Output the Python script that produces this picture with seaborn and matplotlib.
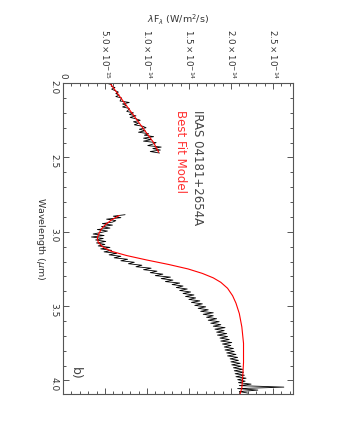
import seaborn as sns
import matplotlib.pyplot as plt
import pandas as pd
import numpy as np
from matplotlib.ticker import MultipleLocator, FixedLocator

# observed spectrum, flux in units of 1e-15 W/m^2/s
k_wave = [2.00, 2.01, 2.02, 2.03, 2.04, 2.05, 2.06, 2.07, 2.08, 2.09,
          2.10, 2.11, 2.12, 2.13, 2.14, 2.15, 2.16, 2.17, 2.18, 2.19,
          2.20, 2.21, 2.22, 2.23, 2.24, 2.25, 2.26, 2.27, 2.28, 2.29,
          2.30, 2.31, 2.32, 2.33, 2.34, 2.35, 2.36, 2.37, 2.38, 2.39,
          2.40, 2.41, 2.42, 2.43, 2.44, 2.45, 2.46, 2.47]
k_flux = [5.2, 5.8, 5.75, 6.2, 5.8, 6.2, 6.6, 6.3, 6.7, 6.3,
          7.0, 6.9, 6.8, 7.9, 7.1, 7.6, 7.1, 7.9, 7.8, 7.6,
          8.4, 7.9, 8.7, 8.0, 8.7, 9.2, 8.4, 9.0, 8.5, 9.5,
          9.9, 9.1, 9.8, 9.0, 10.2, 9.7, 10.8, 9.6, 10.5, 9.6,
          11.1, 10.7, 10.1, 11.7, 10.7, 11.6, 10.4, 11.5]

l_wave = [2.885, 2.895, 2.905, 2.915, 2.925, 2.935, 2.945, 2.955, 2.965, 2.975,
          2.985, 2.995, 3.005, 3.015, 3.025, 3.035, 3.045, 3.055, 3.065, 3.075,
          3.085, 3.095, 3.105, 3.115, 3.125, 3.135, 3.145, 3.155, 3.165, 3.175,
          3.185, 3.195, 3.205, 3.215, 3.225, 3.235, 3.245, 3.255, 3.265, 3.275,
          3.285, 3.295, 3.305, 3.315, 3.325, 3.335, 3.345, 3.355, 3.365, 3.375,
          3.385, 3.395, 3.405, 3.415, 3.425, 3.435, 3.445, 3.455, 3.465, 3.475,
          3.485, 3.495, 3.505, 3.515, 3.525, 3.535, 3.545, 3.555, 3.565, 3.575,
          3.585, 3.595, 3.605, 3.615, 3.625, 3.635, 3.645, 3.655, 3.665, 3.675,
          3.685, 3.695, 3.705, 3.715, 3.725, 3.735, 3.745, 3.755, 3.765, 3.775,
          3.785, 3.795, 3.805, 3.815, 3.825, 3.835, 3.845, 3.855, 3.865, 3.875,
          3.885, 3.895, 3.905, 3.915, 3.925, 3.935, 3.945, 3.955, 3.965, 3.975,
          3.985, 3.995, 4.005, 4.015, 4.025, 4.035, 4.045, 4.055, 4.065, 4.075,
          4.085]
l_flux = [7.4, 6.0, 6.9, 5.2, 6.3, 5.9, 4.7, 5.9, 4.6, 5.6,
          4.1, 5.3, 4.5, 3.6, 4.9, 3.4, 4.8, 3.9, 5.1, 4.0,
          5.0, 4.2, 5.6, 4.5, 5.8, 4.9, 6.4, 5.5, 6.9, 6.1,
          7.7, 6.9, 8.5, 7.8, 9.4, 8.7, 10.5, 9.6, 11.2, 10.4,
          11.9, 11.0, 12.8, 11.7, 13.1, 12.2, 13.9, 13.0, 14.3, 13.5,
          14.8, 13.9, 15.2, 14.3, 15.6, 14.6, 15.8, 15.0, 16.3, 15.3,
          16.6, 15.7, 17.0, 16.1, 17.3, 16.4, 17.9, 16.7, 17.9, 17.1,
          18.3, 17.3, 18.6, 17.6, 18.8, 17.9, 19.3, 18.1, 19.2, 18.3,
          19.5, 18.4, 19.6, 18.7, 19.8, 18.8, 20.1, 19.0, 20.0, 19.2,
          20.3, 19.3, 20.4, 19.5, 20.6, 19.6, 20.8, 19.9, 20.9, 20.0,
          21.1, 20.1, 21.2, 20.3, 21.4, 20.4, 21.5, 20.5, 21.6, 20.6,
          21.8, 20.8, 21.7, 20.9, 22.4, 21.0, 26.3, 20.8, 23.2, 21.0,
          22.0]

# best fit model
mk_wave = [2.000, 2.100, 2.200, 2.300, 2.400, 2.465]
mk_flux = [5.6, 6.9, 8.2, 9.5, 10.8, 11.4]
ml_wave = [2.89, 2.92, 2.95, 2.98, 3.01, 3.04, 3.07, 3.10, 3.13, 3.16,
           3.19, 3.22, 3.25, 3.28, 3.31, 3.34, 3.38, 3.43, 3.48, 3.55,
           3.64, 3.75, 3.88, 3.98, 4.05, 4.09]
ml_flux = [6.7, 5.8, 5.1, 4.6, 4.3, 4.1, 4.2, 4.7, 5.7, 7.6,
           10.0, 12.6, 14.9, 16.6, 17.9, 18.8, 19.6, 20.2, 20.6, 21.0,
           21.3, 21.5, 21.5, 21.4, 21.3, 21.1]

flux_ticks = [0, 5e-15, 1e-14, 1.5e-14, 2e-14, 2.5e-14]
flux_labels = ['0', r'$5.0\times10^{-15}$', r'$1.0\times10^{-14}$',
               r'$1.5\times10^{-14}$', r'$2.0\times10^{-14}$', r'$2.5\times10^{-14}$']
wave_ticks = [2.0, 2.5, 3.0, 3.5, 4.0]
wave_labels = ['2.0', '2.5', '3.0', '3.5', '4.0']

sns.set_style("ticks")
plt.rcParams['font.family'] = ['DejaVu Sans']
plt.rcParams['mathtext.fontset'] = 'dejavusans'

fig = plt.figure(figsize=(3.4, 4.4), dpi=100)
ax = fig.add_axes([0.185, 0.105, 0.677, 0.706])

segs = [(k_wave, k_flux, 'black', 0.6), (l_wave, l_flux, 'black', 0.6),
        (mk_wave, mk_flux, '#ff0000', 0.8), (ml_wave, ml_flux, '#ff0000', 0.8)]
for w, f, c, lw in segs:
    d = pd.DataFrame({'wave': w, 'flux': np.array(f) * 1e-15})
    sns.lineplot(data=d, x='flux', y='wave', orient='y', sort=False,
                 estimator=None, color=c, lw=lw, ax=ax)

ax.set_xlim(0, 2.74e-14)
ax.set_ylim(4.09, 2.0)

gray = '#555555'
for s in ax.spines.values():
    s.set_visible(True)
    s.set_color(gray)
    s.set_linewidth(0.8)

ax.xaxis.set_major_locator(FixedLocator(flux_ticks))
ax.xaxis.set_minor_locator(MultipleLocator(1e-15))
ax.yaxis.set_major_locator(FixedLocator(wave_ticks))
ax.yaxis.set_minor_locator(MultipleLocator(0.1))
ax.set_xticklabels(flux_labels)
ax.set_yticklabels(wave_labels)

ax.tick_params(which='both', direction='in', top=True, bottom=True, left=True, right=True,
               labeltop=True, labelbottom=False, color=gray, width=0.7)
ax.tick_params(which='major', length=4.5)
ax.tick_params(which='minor', length=2.2)
ax.tick_params(axis='x', labelsize=6.3, labelcolor='#333333', pad=3, labelrotation=-90)
ax.tick_params(axis='y', labelsize=6.5, labelcolor='#333333', pad=3, labelrotation=-90)

ax.xaxis.set_label_position('top')
ax.set_xlabel(r'$\lambda$F$_\lambda$ (W/m$^2$/s)', fontsize=6.8, color='#333333', labelpad=4)
ax.set_ylabel(r'Wavelength ($\mu$m)', fontsize=6.8, color='#333333', rotation=-90,
              va='top', labelpad=2)

ax.text(1.6e-14, 2.18, 'IRAS 04181+2654A', rotation=-90, ha='center', va='top',
        fontsize=8.5, color='#444444')
ax.text(1.4e-14, 2.18, 'Best Fit Model', rotation=-90, ha='center', va='top',
        fontsize=8.5, color='#ff3030')
ax.text(1.45e-15, 3.95, 'b)', rotation=-90, ha='center', va='center',
        fontsize=9, color='#444444')

plt.savefig('out.png', dpi=100, facecolor='white')
